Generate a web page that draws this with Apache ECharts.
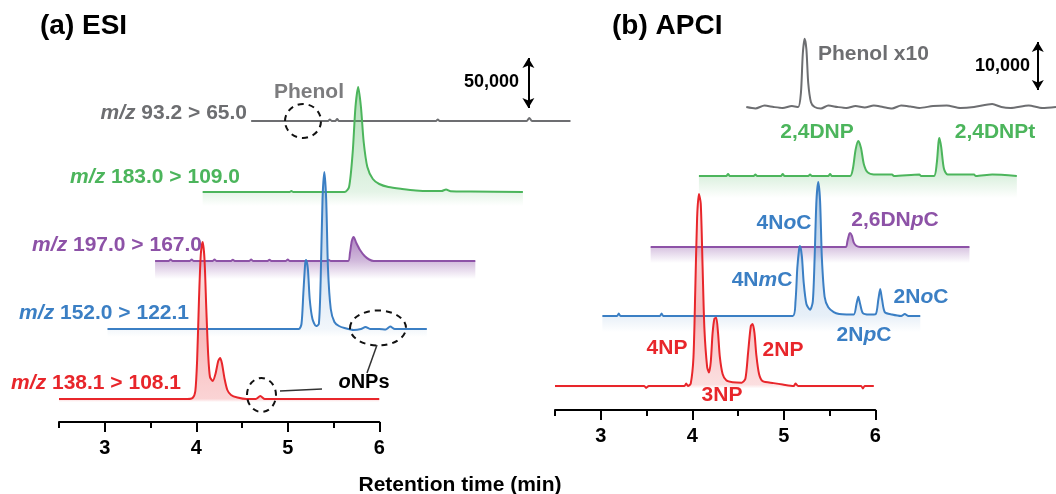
<!DOCTYPE html>
<html>
<head>
<meta charset="utf-8">
<title>ESI / APCI chromatograms</title>
<script src="https://cdn.jsdelivr.net/npm/echarts@6/dist/echarts.min.js"></script>
<style>
  html, body { margin: 0; padding: 0; background: #fff; }
  #main { width: 1056px; height: 494px; }
</style>
</head>
<body>
<div id="main"></div>
<script>
// ---- data: [retention time (min), intensity (counts)] ----
// (a) ESI
var esiRed = [[2.5,0],[3.9,0],[3.96,1000],[3.99,8000],[4.01,40000],[4.03,100000],[4.05,145000],[4.07,157000],[4.09,140000],[4.11,90000],[4.13,45000],[4.15,22000],[4.18,18000],[4.21,25000],[4.24,38000],[4.26,41000],[4.28,36000],[4.31,20000],[4.34,9000],[4.38,4000],[4.45,1500],[4.55,0],[4.65,0],[4.7,3000],[4.75,0],[6.0,0]];
var esiBlue = [[3.03,0],[5.12,0],[5.15,5000],[5.17,35000],[5.19,65000],[5.2,69000],[5.22,60000],[5.24,30000],[5.27,10000],[5.31,3000],[5.34,5000],[5.36,50000],[5.38,130000],[5.4,157000],[5.42,130000],[5.44,60000],[5.47,20000],[5.51,7000],[5.56,3000],[5.62,1000],[5.72,-1000],[5.8,0],[5.85,2000],[5.9,0],[6.0,0],[6.07,-500],[6.12,2500],[6.17,0],[6.52,0]];
var esiPurple = [[3.55,0],[3.7,0],[3.72,1500],[3.74,0],[3.93,0],[3.95,1500],[3.97,0],[4.18,0],[4.2,1500],[4.22,0],[4.38,0],[4.4,1200],[4.42,0],[4.58,0],[4.6,1500],[4.62,0],[4.78,0],[4.8,1200],[4.82,0],[4.98,0],[5.0,1500],[5.02,0],[5.43,0],[5.45,1000],[5.47,0],[5.66,0],[5.68,8000],[5.7,20000],[5.72,24000],[5.75,18000],[5.79,11000],[5.84,5000],[5.89,1500],[5.94,0],[7.05,0]];
var esiGreen = [[4.07,0],[5.02,0],[5.04,1000],[5.06,0],[5.62,0],[5.67,5000],[5.71,40000],[5.74,85000],[5.77,105000],[5.8,85000],[5.83,50000],[5.87,25000],[5.93,13000],[6.0,8000],[6.1,5000],[6.25,3000],[6.4,1500],[6.55,1000],[6.68,1000],[6.73,2500],[6.78,800],[7.0,500],[7.57,0]];
var esiGray = [[4.6,0],[5.44,0],[5.46,1500],[5.48,0],[5.52,0],[5.54,2000],[5.56,0],[6.62,0],[6.64,1500],[6.66,0],[7.61,0],[7.64,3000],[7.67,0],[8.09,0]];

// (b) APCI
var apciRed = [[2.5,0],[3.48,0],[3.5,-400],[3.53,0],[3.92,0],[3.94,500],[3.96,0],[3.99,500],[4.02,6000],[4.04,20000],[4.06,35000],[4.08,40000],[4.1,38000],[4.12,25000],[4.14,12000],[4.17,4000],[4.19,2800],[4.21,5000],[4.23,11000],[4.25,14000],[4.27,14200],[4.29,11000],[4.31,6000],[4.34,2500],[4.38,1200],[4.45,800],[4.55,700],[4.59,1500],[4.62,7000],[4.65,12500],[4.67,12900],[4.69,11000],[4.71,6500],[4.74,2500],[4.78,1000],[4.9,600],[5.0,300],[5.12,0],[5.14,500],[5.17,0],[5.86,0],[5.88,-500],[5.9,0],[6.0,0]];
var apciBlue = [[3.02,0],[3.18,0],[3.2,500],[3.22,0],[3.65,0],[3.67,500],[3.69,0],[5.11,0],[5.14,3000],[5.16,10000],[5.18,14000],[5.19,14600],[5.21,12500],[5.23,7000],[5.26,2500],[5.3,1300],[5.33,3000],[5.35,12000],[5.37,24000],[5.39,27900],[5.41,24000],[5.43,12000],[5.46,4000],[5.5,1800],[5.56,800],[5.62,400],[5.7,300],[5.78,300],[5.81,2500],[5.83,4000],[5.85,2500],[5.88,600],[5.95,300],[6.02,400],[6.05,3500],[6.07,5600],[6.09,3500],[6.12,800],[6.2,300],[6.3,0],[6.34,400],[6.38,0],[6.51,0]];
var apciPurple = [[3.55,0],[5.69,0],[5.71,1200],[5.73,2700],[5.74,2900],[5.76,2300],[5.78,900],[5.81,200],[5.85,0],[7.05,0]];
var apciGreen = [[4.08,0],[4.38,0],[4.4,400],[4.42,0],[4.68,0],[4.7,300],[4.72,0],[4.98,0],[5.0,400],[5.02,0],[5.28,0],[5.3,300],[5.32,0],[5.5,0],[5.52,400],[5.54,0],[5.74,0],[5.77,1500],[5.8,5500],[5.83,7300],[5.86,5800],[5.89,2500],[5.93,800],[6.0,300],[6.2,300],[6.22,0],[6.5,300],[6.52,0],[6.66,0],[6.69,2500],[6.71,7000],[6.72,7900],[6.74,6000],[6.77,1500],[6.81,300],[7.1,300],[7.12,0],[7.3,300],[7.57,0]];
var apciPhenol = [[4.6,0],[4.7,-30],[4.8,30],[4.9,0],[5.0,-20],[5.1,20],[5.17,0],[5.2,300],[5.22,1100],[5.24,1420],[5.26,1200],[5.28,500],[5.31,100],[5.35,0],[5.42,-30],[5.5,30],[5.6,0],[5.7,-20],[5.8,20],[5.9,-10],[6.0,30],[6.1,0],[6.2,-30],[6.3,30],[6.4,10],[6.5,-20],[6.65,20],[6.8,30],[6.95,-20],[7.1,0],[7.3,60],[7.4,0],[7.5,-20],[7.7,30],[7.85,-20],[8.0,0]];
var phenolFactor = 10;

var tickLabels = [3, 4, 5, 6];
var minorTicks = [2.5, 3.5, 4.5, 5.5];
var scaleBarA = 50000;
var scaleBarB = 10000;

// ---- layout ----
var FONT = '"Liberation Sans", Arial, sans-serif';
var RED = '#e8262b', BLUE = '#3b7fc4', PURPLE = '#8d52a7', GREEN = '#4cb55c', GRAY = '#6d6e71';

var pxA = 1000;          // counts per pixel, panel a
var pxB = 10000 / 48;    // counts per pixel, panel b
var minPx = 91.5;        // pixels per minute
// trace baselines (pixels above the bottom trace)
var liftA = [0, 70, 138, 207, 278];
var liftB = [0, 70, 139, 210, 279];

var chart = echarts.init(document.getElementById('main'));

function grad(color, stops) {
  var c = echarts.color.parse(color);
  return {
    type: 'linear', x: 0, y: 0, x2: 0, y2: 1,
    colorStops: stops.map(function (s) {
      return { offset: s[0], color: 'rgba(' + c[0] + ',' + c[1] + ',' + c[2] + ',' + s[1] + ')' };
    })
  };
}

function trace(pts, lift, k, color, xi, z, band, stops, factor) {
  var off = lift * k;
  var s = {
    type: 'line', xAxisIndex: xi, yAxisIndex: xi === 0 ? 0 : 2,
    data: pts.map(function (p) { return [p[0], p[1] * (factor || 1) + off]; }),
    showSymbol: false, symbol: 'none', smooth: 0.25, z: z, silent: true,
    lineStyle: { color: color, width: 2 }
  };
  if (stops) {
    s.areaStyle = { origin: off - band * k, color: grad(color, stops), opacity: 1 };
  }
  return s;
}

function axisPair(gi) {
  return [{
    type: 'value', gridIndex: gi, min: 2.5, max: 6, position: 'bottom',
    axisLine: { show: true, onZero: false, lineStyle: { color: '#000', width: 2 } },
    axisTick: { show: true, customValues: tickLabels, length: 10, lineStyle: { color: '#000', width: 2 } },
    axisLabel: { customValues: tickLabels, margin: 16, color: '#000', fontSize: 20, fontWeight: 'bold', fontFamily: FONT },
    splitLine: { show: false }
  }, {
    type: 'value', gridIndex: gi, min: 2.5, max: 6, position: 'bottom',
    axisLine: { show: false, onZero: false },
    axisTick: { show: true, customValues: minorTicks, length: 6, lineStyle: { color: '#000', width: 2 } },
    axisLabel: { show: false },
    splitLine: { show: false }
  }];
}

var hiddenX = function (gi, max) {
  return { type: 'value', gridIndex: gi, min: 2.5, max: max, show: false, splitLine: { show: false } };
};

var axA = axisPair(1), axB = axisPair(3);

function txt(x, y, text, color, size, align) {
  return {
    type: 'text', z: 50,
    style: {
      text: text, x: x, y: y, fill: color, fontSize: size, fontWeight: 'bold', fontFamily: FONT,
      textAlign: align || 'left', textVerticalAlign: 'middle',
      rich: { i: { fontStyle: 'italic', fontWeight: 'bold', fontSize: size, fontFamily: FONT, fill: color } }
    }
  };
}

var dash = { fill: 'none', stroke: '#111', lineWidth: 2, lineDash: [6, 5] };

var option = {
  animation: false,
  backgroundColor: '#fff',
  grid: [
    { left: 59, top: 30, width: 5.6 * minPx, height: 390 },
    { left: 59, top: 400, width: 3.5 * minPx, height: 22 },
    { left: 555, top: 20, width: 5.5 * minPx, height: 380 },
    { left: 555, top: 388, width: 3.5 * minPx, height: 22 }
  ],
  xAxis: [hiddenX(0, 8.1), axA[0], axA[1], hiddenX(2, 8.0), axB[0], axB[1]],
  yAxis: [
    { type: 'value', gridIndex: 0, min: -21 * pxA, max: 369 * pxA, show: false },
    { type: 'value', gridIndex: 1, min: 0, max: 1, show: false },
    { type: 'value', gridIndex: 2, min: -14 * pxB, max: 366 * pxB, show: false },
    { type: 'value', gridIndex: 3, min: 0, max: 1, show: false }
  ],
  series: [
    // panel a (top trace first, bottom trace drawn last)
    trace(esiGray, liftA[4], pxA, GRAY, 0, 2),
    trace(esiGreen, liftA[3], pxA, GREEN, 0, 3, 14, [[0, 0.45], [0.88, 0.15], [1, 0]]),
    trace(esiPurple, liftA[2], pxA, PURPLE, 0, 4, 18, [[0, 0.7], [0.57, 0.4], [1, 0]]),
    trace(esiBlue, liftA[1], pxA, BLUE, 0, 5, 8, [[0, 0.4], [0.95, 0.07], [1, 0]]),
    trace(esiRed, liftA[0], pxA, RED, 0, 6, 3, [[0, 0.08], [0.6, 0.3], [0.98, 0.2], [1, 0]]),
    // panel b
    trace(apciPhenol, liftB[4], pxB, GRAY, 3, 2, 0, null, phenolFactor),
    trace(apciGreen, liftB[3], pxB, GREEN, 3, 3, 22, [[0, 0.45], [0.63, 0.2], [1, 0]]),
    trace(apciPurple, liftB[2], pxB, PURPLE, 3, 4, 16, [[0, 0.6], [0.47, 0.35], [1, 0]]),
    trace(apciBlue, liftB[1], pxB, BLUE, 3, 5, 16, [[0, 0.4], [0.89, 0.12], [1, 0]]),
    trace(apciRed, liftB[0], pxB, RED, 3, 6, 2, [[0, 0.08], [0.6, 0.3], [0.98, 0.15], [1, 0]]),
    // scale bars
    {
      type: 'line', xAxisIndex: 0, yAxisIndex: 0, data: [], silent: true,
      markLine: {
        silent: true, symbol: ['arrow', 'arrow'], symbolSize: [9, 10], label: { show: false },
        lineStyle: { color: '#000', width: 2, type: 'solid' },
        data: [[{ coord: [7.63, 291 * pxA] }, { coord: [7.63, 291 * pxA + scaleBarA] }]]
      }
    },
    {
      type: 'line', xAxisIndex: 3, yAxisIndex: 2, data: [], silent: true,
      markLine: {
        silent: true, symbol: ['arrow', 'arrow'], symbolSize: [9, 10], label: { show: false },
        lineStyle: { color: '#000', width: 2, type: 'solid' },
        data: [[{ coord: [7.8, 296 * pxB] }, { coord: [7.8, 296 * pxB + scaleBarB] }]]
      }
    }
  ],
  graphic: [
    txt(40, 26, '(a) ESI', '#000', 28),
    txt(612, 26, '(b) APCI', '#000', 28),
    txt(460, 485, 'Retention time (min)', '#000', 21, 'center'),
    // panel a labels
    txt(247, 113, '{i|m/z} 93.2 > 65.0', GRAY, 21, 'right'),
    txt(309, 92, 'Phenol', '#7c7c7e', 21, 'center'),
    txt(240, 177, '{i|m/z} 183.0 > 109.0', GREEN, 21, 'right'),
    txt(202, 245, '{i|m/z} 197.0 > 167.0', PURPLE, 21, 'right'),
    txt(189, 313, '{i|m/z} 152.0 > 122.1', BLUE, 21, 'right'),
    txt(181, 383, '{i|m/z} 138.1 > 108.1', RED, 21, 'right'),
    txt(519, 82, '50,000', '#000', 18, 'right'),
    txt(364, 382, '{i|o}NPs', '#000', 20, 'center'),
    // panel b labels
    txt(818, 54, 'Phenol x10', GRAY, 21, 'left'),
    txt(1030, 66, '10,000', '#000', 18, 'right'),
    txt(817, 132, '2,4DNP', GREEN, 21, 'center'),
    txt(995, 132, '2,4DNPt', GREEN, 21, 'center'),
    txt(784, 223, '4N{i|o}C', BLUE, 21, 'center'),
    txt(895, 220, '2,6DN{i|p}C', PURPLE, 21, 'center'),
    txt(762, 280, '4N{i|m}C', BLUE, 21, 'center'),
    txt(921, 297, '2N{i|o}C', BLUE, 21, 'center'),
    txt(864, 335, '2N{i|p}C', BLUE, 21, 'center'),
    txt(667, 348, '4NP', RED, 21, 'center'),
    txt(783, 350, '2NP', RED, 21, 'center'),
    txt(722, 395, '3NP', RED, 21, 'center'),
    // dashed call-outs
    { type: 'ellipse', z: 60, shape: { cx: 303, cy: 121, rx: 18, ry: 17 }, style: dash },
    { type: 'ellipse', z: 60, shape: { cx: 261.5, cy: 395, rx: 14.5, ry: 17 }, style: dash },
    { type: 'ellipse', z: 60, shape: { cx: 378, cy: 328, rx: 28, ry: 17.5 }, style: dash },
    { type: 'line', z: 60, shape: { x1: 280, y1: 391, x2: 322, y2: 389 }, style: { stroke: '#333', lineWidth: 1.5 } },
    { type: 'line', z: 60, shape: { x1: 377, y1: 345, x2: 367, y2: 373 }, style: { stroke: '#333', lineWidth: 1.5 } }
  ]
};

chart.setOption(option);
</script>
</body>
</html>
